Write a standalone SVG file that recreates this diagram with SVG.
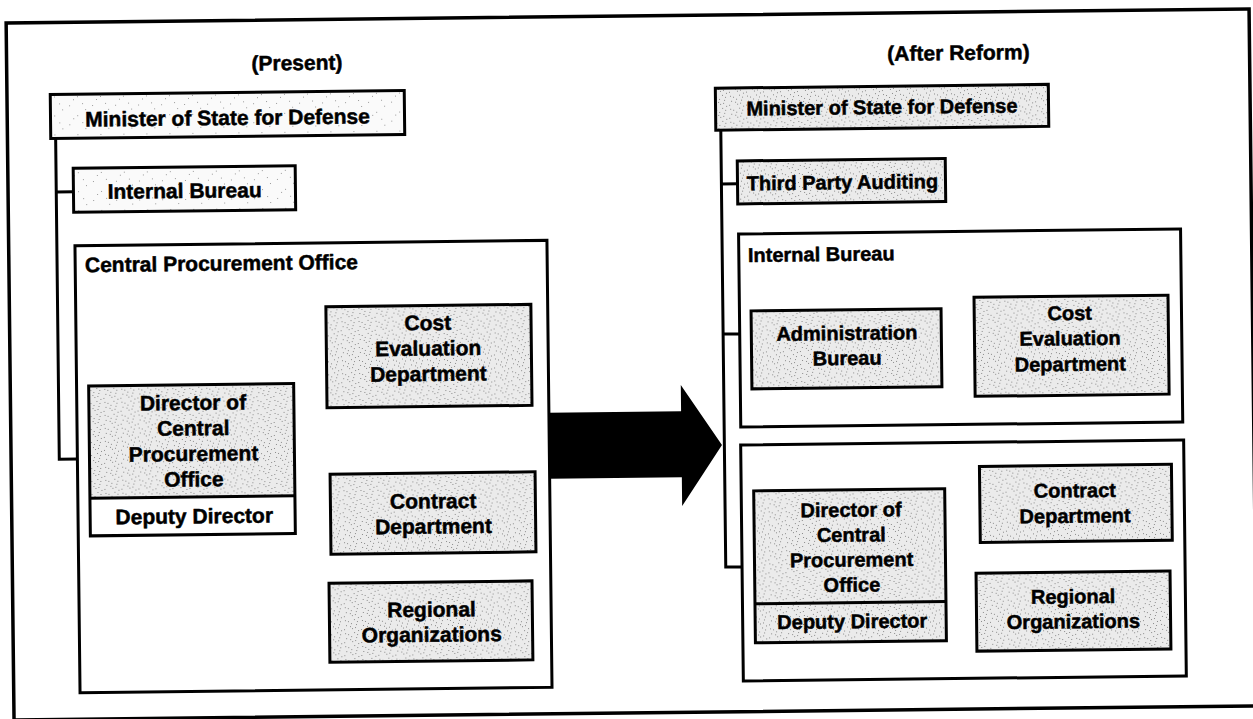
<svg xmlns="http://www.w3.org/2000/svg" width="1253" height="719" viewBox="0 0 1253 719">
  <style>
    .box { stroke: #000; stroke-width: 3; }
    .dense { fill: url(#stip); }
    .light { fill: url(#stipLight); }
    .plain { fill: #fff; }
    .frame { fill: none; stroke: #000; stroke-width: 3.5; }
    .conn { fill: none; stroke: #000; stroke-width: 3; }
    .t { font-family: "Liberation Sans", Arial, Helvetica, sans-serif; font-weight: bold; font-size: 21px; fill: #000; stroke: #000; stroke-width: 0.5; stroke-linejoin: round; text-anchor: middle; }
    .s { font-size: 20px; }
    .st { text-anchor: start; }
  </style>
  <defs>
    <!-- grainy screen tone used for the shaded boxes -->
    <pattern id="stip" width="17" height="13" patternUnits="userSpaceOnUse">
      <rect width="17" height="13" fill="#ebebeb"/>
      <path fill="#8a8a8a" d="M1 2h1v1h-1z M5 7h1v1h-1z M9 1h1v1h-1z M13 10h1v1h-1z M3 11h1v1h-1z M11 5h1v1h-1z M15 3h1v1h-1z M7 12h1v1h-1z M14 7h1v1h-1z M2 6h1v1h-1z M8 9h1v1h-1z M12 0h1v1h-1z"/>
    </pattern>
    <pattern id="stipLight" width="23" height="19" patternUnits="userSpaceOnUse">
      <rect width="23" height="19" fill="#fafafa"/>
      <path fill="#9a9a9a" d="M3 4h1v1h-1z M11 14h1v1h-1z M19 8h1v1h-1z M7 17h1v1h-1z M16 2h1v1h-1z"/>
    </pattern>
  </defs>

  <rect width="1253" height="719" fill="#fff"/>

  <g transform="rotate(-0.65 626 360)">
    <!-- outer border -->
    <g id="border">
      <rect class="frame" x="10" y="16" width="1243" height="697"/>
    </g>

    <!-- column headings -->
    <g id="heading-present">
      <text class="t" x="300.3" y="66.3">(Present)</text>
    </g>
    <g id="heading-after">
      <text class="t" x="961.9" y="63.8">(After Reform)</text>
    </g>

    <!-- connectors -->
    <g id="connectors">
      <!-- present organisation -->
      <path class="conn" d="M58.2,132 V452.7 H76.3"/>
      <path class="conn" d="M58.2,185.5 H75.4"/>
      <path class="conn" d="M293.4,454 H308.6"/>
      <path class="conn" d="M308.6,351.5 V613.2"/>
      <path class="conn" d="M307.1,351.5 H326.5"/>
      <path class="conn" d="M307.1,513.2 H328.8"/>
      <path class="conn" d="M307.1,613.2 H326.5"/>
      <!-- reformed organisation -->
      <path class="conn" d="M723.4,131.2 V568.2 H739.7"/>
      <path class="conn" d="M723.4,185 H739.5"/>
      <path class="conn" d="M723.4,335.2 H740"/>
      <path class="conn" d="M941.6,349.8 H974.7"/>
      <path class="conn" d="M943.2,563.7 H955.8"/>
      <path class="conn" d="M955.8,511.1 V607.8"/>
      <path class="conn" d="M954.3,511.1 H978.2"/>
      <path class="conn" d="M954.3,607.8 H973.6"/>
    </g>

    <!-- ===== Present ===== -->
    <g id="minister-present">
      <rect class="box light" x="53.3" y="88" width="354" height="44"/>
      <text class="t" x="230.3" y="120.5">Minister of State for Defense</text>
    </g>

    <g id="internal-bureau-present">
      <rect class="box light" x="75.4" y="162" width="222" height="44"/>
      <text class="t" x="186.6" y="193">Internal Bureau</text>
    </g>

    <g id="central-procurement-office-present">
      <rect class="box plain" x="76.3" y="239.5" width="472" height="447"/>
      <text class="t st" x="86" y="266">Central Procurement Office</text>
    </g>

    <g id="director-present">
      <rect class="dense" x="88.4" y="379.8" width="205" height="112.3"/>
      <rect class="plain" x="88.4" y="492.1" width="205" height="37.7"/>
      <rect class="box" fill="none" x="88.4" y="379.8" width="205" height="150"/>
      <line class="conn" x1="88.4" y1="492.1" x2="293.4" y2="492.1"/>
      <text class="t" x="192.5" y="405">Director of</text>
      <text class="t" x="192.5" y="430.5">Central</text>
      <text class="t" x="192.5" y="456">Procurement</text>
      <text class="t" x="192.5" y="481.5">Office</text>
      <text class="t" x="192.5" y="518.5">Deputy Director</text>
    </g>

    <g id="cost-evaluation-present">
      <rect class="box dense" x="326.5" y="303.3" width="205" height="101"/>
      <text class="t" x="428.3" y="327.8">Cost</text>
      <text class="t" x="428.3" y="353.3">Evaluation</text>
      <text class="t" x="428.3" y="378.8">Department</text>
    </g>

    <g id="contract-present">
      <rect class="box dense" x="328.8" y="470.8" width="205" height="80"/>
      <text class="t" x="431.6" y="506.1">Contract</text>
      <text class="t" x="431.6" y="531.3">Department</text>
    </g>

    <g id="regional-present">
      <rect class="box dense" x="326.5" y="579.8" width="203" height="79"/>
      <text class="t" x="428.7" y="614.5">Regional</text>
      <text class="t" x="428.7" y="639.5">Organizations</text>
    </g>

    <!-- transition arrow -->
    <g id="reform-arrow">
      <path fill="#000" d="M548,411.8 H680.5 V385.6 L721,446 L680.5,506.6 V477.8 H548 Z"/>
    </g>

    <!-- ===== After Reform ===== -->
    <g id="minister-after">
      <rect class="box dense" x="718.4" y="89.2" width="333" height="42"/>
      <text class="t s" x="884.8" y="116.9">Minister of State for Defense</text>
    </g>

    <g id="third-party-auditing">
      <rect class="box dense" x="739.5" y="162.2" width="208" height="43"/>
      <text class="t s" x="844.4" y="191.7">Third Party Auditing</text>
    </g>

    <g id="internal-bureau-after">
      <rect class="box plain" x="740" y="235.3" width="442" height="193"/>
      <text class="t s st" x="749.1" y="263.4">Internal Bureau</text>
    </g>

    <g id="administration-bureau">
      <rect class="box dense" x="751.6" y="312.3" width="190" height="78"/>
      <text class="t s" x="847.2" y="342.5">Administration</text>
      <text class="t s" x="847.2" y="367.5">Bureau</text>
    </g>

    <g id="cost-evaluation-after">
      <rect class="box dense" x="974.7" y="301.3" width="194" height="99"/>
      <text class="t s" x="1070.2" y="325">Cost</text>
      <text class="t s" x="1070.2" y="350.3">Evaluation</text>
      <text class="t s" x="1070.2" y="376">Department</text>
    </g>

    <g id="central-procurement-office-after">
      <rect class="box plain" x="739.7" y="446.3" width="443" height="236"/>
    </g>

    <g id="director-after">
      <rect class="box dense" x="752.2" y="492.3" width="191" height="152"/>
      <line class="conn" x1="752.2" y1="605.2" x2="943.2" y2="605.2"/>
      <text class="t s" x="849.3" y="519.2">Director of</text>
      <text class="t s" x="849.3" y="544.2">Central</text>
      <text class="t s" x="849.3" y="569.2">Procurement</text>
      <text class="t s" x="849.3" y="594.2">Office</text>
      <text class="t s" x="849.3" y="630.8">Deputy Director</text>
    </g>

    <g id="contract-after">
      <rect class="box dense" x="978.2" y="470.5" width="192" height="76"/>
      <text class="t s" x="1073.3" y="502.4">Contract</text>
      <text class="t s" x="1073.3" y="527.8">Department</text>
    </g>

    <g id="regional-after">
      <rect class="box dense" x="973.6" y="577.1" width="194" height="78"/>
      <text class="t s" x="1070.4" y="608.4">Regional</text>
      <text class="t s" x="1070.4" y="633.4">Organizations</text>
    </g>
  </g>
</svg>
